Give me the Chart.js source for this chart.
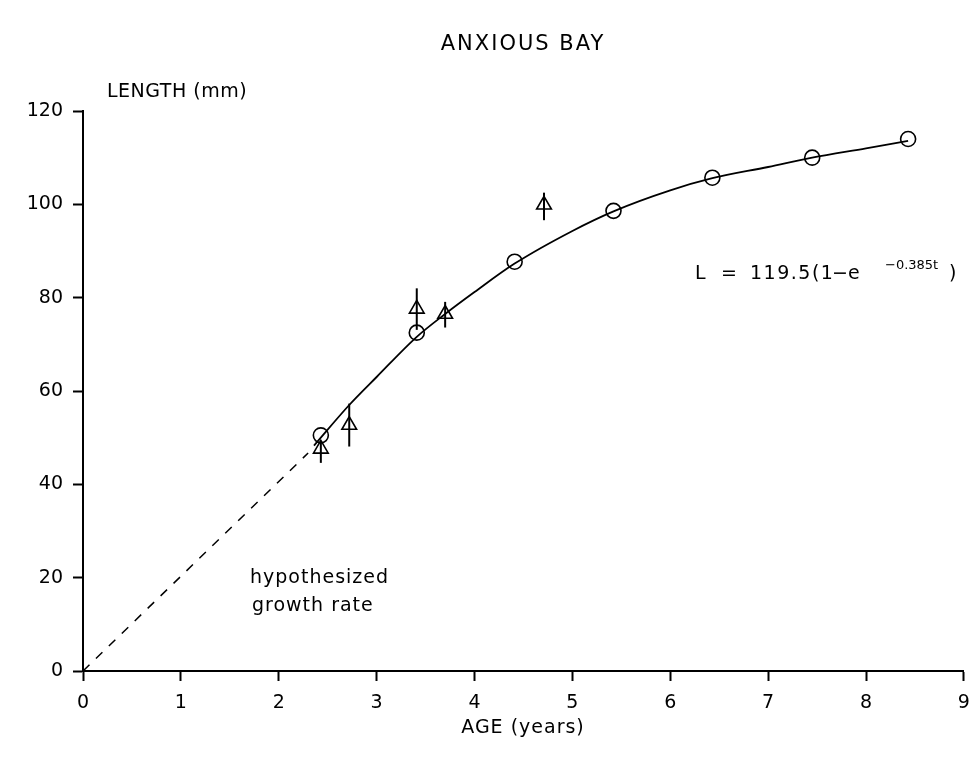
<!DOCTYPE html>
<html>
<head>
<meta charset="utf-8">
<script src="https://cdn.jsdelivr.net/npm/chart.js@4.4.0/dist/chart.umd.min.js"></script>
<style>
  html, body { margin: 0; padding: 0; background: #fff; }
  #wrap { width: 974px; height: 760px; }
</style>
</head>
<body>
<div id="wrap"><canvas id="growth-chart" width="974" height="760"></canvas></div>
<script>
// measured lengths (circles)
const circleAge = [2.43, 3.41, 4.41, 5.42, 6.43, 7.45, 8.43];
const circleLen = [50.5, 72.5, 87.7, 98.6, 105.7, 110.0, 114.0];

// back-calculated lengths (triangles) with error bars
const triAge = [2.43, 2.72, 3.41, 3.70, 4.71];
const triLen = [47.6, 52.7, 77.6, 76.5, 99.9];
const triLow = [44.6, 48.1, 73.1, 73.6, 96.6];
const triHigh = [49.3, 57.3, 82.0, 79.1, 102.5];

// fitted growth curve
const curveAge = [2.36, 2.72, 3.0, 3.41, 3.7, 4.0, 4.41, 5.0, 5.42, 6.0, 6.43, 7.0, 7.45, 8.0, 8.43];
const curveLen = [48.3, 57.0, 63.0, 71.6, 76.5, 81.2, 87.3, 94.3, 98.5, 103.0, 105.6, 108.0, 110.0, 112.0, 113.6];

// hypothesized growth (dashed)
const hypoAge = [0, 2.3];
const hypoLen = [0, 46.7];

const xTicks = [0, 1, 2, 3, 4, 5, 6, 7, 8, 9];
const yTicks = [0, 20, 40, 60, 80, 100, 120];

const FONT = '"DejaVu Sans", sans-serif';

function pts(xs, ys) {
    return xs.map((x, i) => ({ x: x, y: ys[i] }));
}

//error bars + text
const extras = {
    id: 'extras',
    afterDatasetsDraw(chart) {
        const ctx = chart.ctx;
        const xs = chart.scales.x, ys = chart.scales.y;
        ctx.save();
        ctx.strokeStyle = '#000';
        ctx.lineWidth = 2;
        for (let i = 0; i < triAge.length; i++) {
            const px = xs.getPixelForValue(triAge[i]);
            ctx.beginPath();
            ctx.moveTo(px, ys.getPixelForValue(triHigh[i]));
            ctx.lineTo(px, ys.getPixelForValue(triLow[i]));
            ctx.stroke();
        }
        ctx.restore();
    },
    afterDraw(chart) {
        const ctx = chart.ctx;
        ctx.save();
        ctx.fillStyle = '#000';
        ctx.textBaseline = 'middle';

        ctx.letterSpacing = '2px';
        ctx.font = '21px ' + FONT;
        ctx.textAlign = 'center';
        ctx.fillText('ANXIOUS BAY', 523, 45);

        ctx.letterSpacing = '0.5px';
        ctx.font = '19px ' + FONT;
        ctx.textAlign = 'left';
        ctx.fillText('LENGTH (mm)', 107, 92);

        ctx.letterSpacing = '1px';
        ctx.textAlign = 'center';
        ctx.fillText('AGE (years)', 523, 728);

        ctx.textAlign = 'left';
        ctx.fillText('hypothesized', 250, 578);
        ctx.fillText('growth rate', 252, 606);

        // equation, piece by piece to get the wide plotter spacing
        ctx.letterSpacing = '1.5px';
        ctx.fillText('L', 695, 274);
        ctx.fillText('=', 721, 274);
        ctx.fillText('119.5(1', 750, 274);
        ctx.fillText('\u2212', 832, 274);
        ctx.fillText('e', 848, 274);
        ctx.letterSpacing = '0px';
        ctx.font = '13px ' + FONT;
        ctx.fillText('\u22120.385t', 885, 266);
        ctx.font = '19px ' + FONT;
        ctx.fillText(')', 949, 274);
        ctx.restore();
    }
};

const ctx = document.getElementById('growth-chart');

new Chart(ctx, {
    type: 'scatter',
    data: {
        datasets: [
            {
                label: 'hypothesized',
                type: 'line',
                data: pts(hypoAge, hypoLen),
                borderColor: '#000',
                borderWidth: 1.5,
                borderDash: [9, 9],
                pointRadius: 0,
                fill: false
            },
            {
                label: 'fit',
                type: 'line',
                data: pts(curveAge, curveLen),
                borderColor: '#000',
                borderWidth: 1.8,
                cubicInterpolationMode: 'monotone',
                pointRadius: 0,
                fill: false
            },
            {
                label: 'measured',
                data: pts(circleAge, circleLen),
                pointStyle: 'circle',
                pointRadius: 7.5,
                borderColor: '#000',
                borderWidth: 1.6,
                backgroundColor: 'rgba(0,0,0,0)'
            },
            {
                label: 'back-calculated',
                data: pts(triAge, triLen),
                pointStyle: 'triangle',
                pointRadius: 8.5,
                borderColor: '#000',
                borderWidth: 1.6,
                backgroundColor: 'rgba(0,0,0,0)'
            }
        ]
    },
    options: {
        responsive: false,
        animation: false,
        events: [],
        layout: { padding: { top: 111, right: 8, left: 0, bottom: 0 } },
        plugins: {
            legend: { display: false },
            tooltip: { enabled: false }
        },
        scales: {
            x: {
                type: 'linear',
                min: 0,
                max: 9,
                afterFit: (scale) => {
                    scale.height = 89;
                    scale.paddingLeft = 0;
                    scale.paddingRight = 0;
                },
                afterBuildTicks: (scale) => { scale.ticks = xTicks.map(v => ({ value: v })); },
                border: { display: true, color: '#000', width: 2 },
                grid: { drawOnChartArea: false, drawTicks: true, tickLength: 10, tickWidth: 2, tickColor: '#000' },
                ticks: { color: '#000', padding: 11, font: { family: FONT, size: 19 } }
            },
            y: {
                type: 'linear',
                min: 0,
                max: 120,
                afterFit: (scale) => {
                    scale.width = 83;
                    scale.paddingTop = 0;
                    scale.paddingBottom = 0;
                },
                afterBuildTicks: (scale) => { scale.ticks = yTicks.map(v => ({ value: v })); },
                border: { display: true, color: '#000', width: 2 },
                grid: { drawOnChartArea: false, drawTicks: true, tickLength: 10, tickWidth: 2, tickColor: '#000' },
                ticks: { color: '#000', padding: 10, font: { family: FONT, size: 19 } }
            }
        }
    },
    plugins: [extras]
});
</script>
</body>
</html>
